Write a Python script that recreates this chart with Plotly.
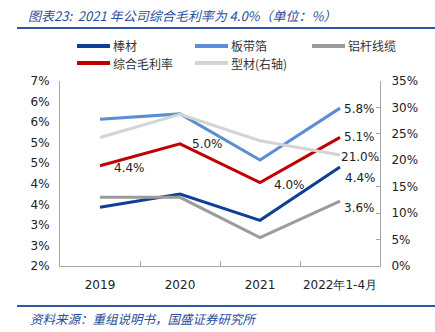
import plotly.graph_objects as go

categories = ["2019", "2020", "2021", "2022年1-4月"]
series_names = ["棒材", "板带箔", "铝杆线缆", "综合毛利率", "型材(右轴)"]
bangcai = [3.43, 3.75, 3.11, 4.41]
bandaibo = [5.57, 5.70, 4.58, 5.84]
lvgan = [3.67, 3.67, 2.69, 3.58]
zonghe = [4.44, 4.97, 4.03, 5.13]
xingcai = [24.3, 28.7, 23.7, 21.0]

left_tickvals = [2.0, 2.5, 3.0, 3.5, 4.0, 4.5, 5.0, 5.5, 6.0, 6.5]
left_ticktext = ["2%", "3%", "3%", "4%", "4%", "5%", "5%", "6%", "6%", "7%"]
right_tickvals = [0, 5, 10, 15, 20, 25, 30, 35]
right_ticktext = ["0%", "5%", "10%", "15%", "20%", "25%", "30%", "35%"]

W, H = 435, 332
ML, MR, MT, MB = 60, 55, 81, 66
PW = W - ML - MR
PH = H - MT - MB

def px(x):
    return (x - ML) / PW

def py(y):
    return (H - MB - y) / PH

colors = ["#0E3F96", "#5B8ED3", "#9B9B9B", "#C00000", "#D4D4D4"]
data = [bangcai, bandaibo, lvgan, zonghe, xingcai]
axes = ["y", "y", "y", "y", "y2"]

fig = go.Figure()
LW = 3
for name, vals, c, ax in zip(series_names, data, colors, axes):
    fig.add_trace(go.Scatter(x=categories, y=vals, name=name, mode="lines",
                             line=dict(color=c, width=LW), yaxis=ax, showlegend=False))

lab_font = dict(family="DejaVu Sans", size=12, color="#222222")
annos = []
shifts_red = [(29, -2), (27, 0), (29, -2), (19, 0)]
for i, (dx, dy) in enumerate(shifts_red):
    annos.append(dict(x=i, y=zonghe[i], xref="x", yref="y",
                      text=f"{zonghe[i]:.1f}%", showarrow=False, font=lab_font,
                      xshift=dx, yshift=dy))
annos.append(dict(x=3, y=bandaibo[3], xref="x", yref="y",
                  text="5.8%", showarrow=False, font=lab_font, xshift=19, yshift=-1))
annos.append(dict(x=3, y=xingcai[3], xref="x", yref="y2",
                  text=f"{xingcai[3]:.1f}%", showarrow=False, font=lab_font,
                  xshift=20, yshift=-2))
annos.append(dict(x=3, y=bangcai[3], xref="x", yref="y",
                  text=f"{bangcai[3]:.1f}%", showarrow=False, font=lab_font,
                  xshift=20, yshift=-11))
annos.append(dict(x=3, y=lvgan[3], xref="x", yref="y",
                  text=f"{lvgan[3]:.1f}%", showarrow=False, font=lab_font,
                  xshift=19, yshift=-7))

# legend (manual, to match compact layout)
leg_pos = [(77, 46), (195, 46), (312, 46), (77, 63), (195, 63)]
shapes = []
leg_font = dict(family="Noto Sans CJK SC", size=12, color="#333333")
for name, c, (lx, ly) in zip(series_names, colors, leg_pos):
    shapes.append(dict(type="line", xref="paper", yref="paper", x0=px(lx), x1=px(lx + 33),
                       y0=py(ly), y1=py(ly), line=dict(color=c, width=4)))
    annos.append(dict(x=px(lx + 34), y=py(ly), xref="paper", yref="paper", xanchor="left",
                      yanchor="middle", text=name, showarrow=False, font=leg_font))

title_color = "#2B4C9B"
annos.append(dict(x=px(26), y=py(15), xref="paper", yref="paper", xanchor="left", yanchor="middle",
                  text="<i>图表23:  2021 年公司综合毛利率为 4.0%（单位：%）</i>", showarrow=False,
                  font=dict(family="Noto Sans CJK SC", size=13, color=title_color)))
annos.append(dict(x=px(28), y=py(318), xref="paper", yref="paper", xanchor="left", yanchor="middle",
                  text="<i>资料来源：重组说明书，国盛证券研究所</i>", showarrow=False,
                  font=dict(family="Noto Sans CJK SC", size=12.5, color=title_color)))

shapes += [
    dict(type="line", xref="paper", yref="paper", x0=px(17), x1=px(435), y0=py(28), y1=py(28),
         line=dict(color="#2F569F", width=2)),
    dict(type="line", xref="paper", yref="paper", x0=px(17), x1=px(435), y0=py(306), y1=py(306),
         line=dict(color="#2F569F", width=2)),
]

axis_color = "#A6A6A6"
tick_font = dict(family="DejaVu Sans", size=12, color="#222222")
fig.update_layout(
    width=W, height=H,
    margin=dict(l=ML, r=MR, t=MT, b=MB, autoexpand=False),
    paper_bgcolor="white", plot_bgcolor="white",
    showlegend=False,
    xaxis=dict(type="category", categoryorder="array", categoryarray=categories,
               range=[-0.5, 3.5], showline=True, linecolor=axis_color, linewidth=1,
               ticks="inside", tickson="boundaries", ticklen=5, tickcolor=axis_color,
               showgrid=False, zeroline=False, tickfont=tick_font, tickangle=0,
               ticklabelstandoff=8),
    yaxis=dict(range=[2, 6.5], tickvals=left_tickvals, ticktext=left_ticktext,
               showline=True, linecolor=axis_color, linewidth=1, ticks="",
               showgrid=False, zeroline=False, tickfont=tick_font, ticklabelstandoff=7),
    yaxis2=dict(range=[0, 35], tickvals=right_tickvals, ticktext=right_ticktext,
                overlaying="y", side="right", showline=True, linecolor=axis_color, linewidth=1,
                ticks="inside", ticklen=4, tickcolor=axis_color,
                showgrid=False, zeroline=False, tickfont=tick_font, ticklabelstandoff=8),
    annotations=annos, shapes=shapes,
)

fig.write_html("out.html")
